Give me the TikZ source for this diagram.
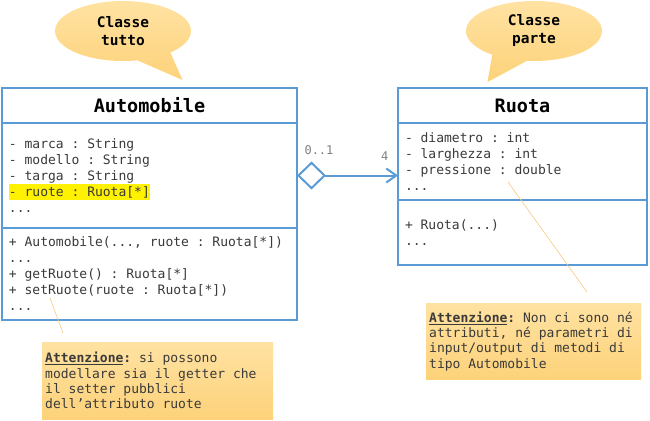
\documentclass[tikz,border=0pt]{standalone}
\usepackage{fontspec}
\setmonofont{DejaVu Sans Mono}
\usepackage{tikz}
\usetikzlibrary{positioning,shapes,shapes.callouts,arrows.meta}
\definecolor{umlblue}{HTML}{5B9BD5}
\definecolor{txtgray}{HTML}{3A3A3A}
\definecolor{multgray}{HTML}{7F7F7F}
\definecolor{notetop}{HTML}{FFE2A2}
\definecolor{notebot}{HTML}{FDD27A}
\definecolor{noteline}{HTML}{F6C982}
\newcommand{\hlyellow}[1]{{\setlength\fboxsep{0pt}\colorbox{yellow}{\rule[-3.5pt]{0pt}{16pt}#1}}}
\newcommand{\monosp}{\spaceskip=\fontdimen2\font\xspaceskip=\fontdimen2\font\relax}

\begin{document}
\begin{tikzpicture}[x=1pt,y=-1pt,
  cls/.style={draw=umlblue,line width=2pt,outer sep=0pt,fill=white,inner xsep=7pt,align=left,
    text=txtgray,font=\ttfamily\fontsize{13}{16}\selectfont,execute at begin node=\monosp},
  clsname/.style={cls,align=center,text=black,minimum height=35pt,
    font=\ttfamily\bfseries\fontsize{18.5}{20}\selectfont},
  bubble/.style={ellipse callout,callout pointer arc=32,minimum width=136pt,minimum height=60pt,
    inner sep=0pt,top color=notetop,bottom color=notebot,draw=none,align=center,
    font=\ttfamily\bfseries\fontsize{14.5}{18}\selectfont},
  note/.style={anchor=north west,inner xsep=3pt,top color=notetop,bottom color=notebot,align=left,
    text=txtgray,font=\ttfamily\fontsize{13}{15.3}\selectfont,execute at begin node=\monosp},
  noteln/.style={draw=noteline,line width=0.6pt},
  assoc/.style={draw=umlblue,line width=2pt,
    {Diamond[open,length=29pt,width=28pt]}-{Straight Barb[length=10pt,width=14pt]}},
  mult/.style={text=multgray,font=\ttfamily\fontsize{12}{14}\selectfont}]
  \useasboundingbox (0,0) rectangle (650,420);
  % classe tutto
  \node(auto)[clsname,anchor=north west,text width=281pt] at (2,88) {Automobile};
  \node(autoattr)[cls,below=0pt of auto,text width=281pt,minimum height=105pt]
    {- marca : String\\- modello : String\\- targa : String\\\hlyellow{- ruote : Ruota[*]}\\...};
  \node(autoops)[cls,below=0pt of autoattr,text width=281pt,minimum height=92pt]
    {+ Automobile(..., ruote : Ruota[*])\\...\\+ getRuote() : Ruota[*]\\+ setRuote(ruote : Ruota[*])\\...};
  % classe parte
  \node(ruota)[clsname,anchor=north west,text width=235pt] at (398,88) {Ruota};
  \node(ruotaattr)[cls,below=0pt of ruota,text width=235pt,minimum height=77pt]
    {- diametro : int\\- larghezza : int\\- pressione : double\\...};
  \node(ruotaops)[cls,below=0pt of ruotaattr,text width=235pt,minimum height=65pt]
    {+ Ruota(...)\\...};
  % fumetti
  \node(bubtutto)[bubble,callout absolute pointer={([shift={(33,-8)}]auto.north)}] at (123,31) {Classe\\tutto};
  \node(bubparte)[bubble,callout absolute pointer={([shift={(-35,-6)}]ruota.north)}] at (534,31) {Classe\\parte};
  % aggregazione
  \coordinate(aggend) at (autoattr.east -| ruotaattr.west);
  \draw[assoc] (autoattr.east) -- (aggend);
  \node(mtutto)[mult,above right=17pt and 4pt of autoattr.east] {0..1};
  \node(mparte)[mult,above left=11pt and 6pt of aggend] {4};
  % note
  \node(notetutto)[note,text width=225pt,minimum height=77pt] at (42,342)
    {\underline{\textbf{Attenzione}}\textbf{:} si possono\\modellare sia il getter che\\il setter pubblici\\dell’attributo ruote};
  \node(noteparte)[note,text width=209pt,minimum height=76pt] at (426,303)
    {\underline{\textbf{Attenzione}}\textbf{:} Non ci sono né\\attributi, né parametri di\\input/output di metodi di\\tipo Automobile};
  \draw[noteln] ([shift={(48,-22)}]autoops.south west) -- ([shift={(21,-9)}]notetutto.north west);
  \draw[noteln] ([shift={(110,-18)}]ruotaattr.south west) -- ([shift={(161,-11)}]noteparte.north west);
\end{tikzpicture}
\end{document}
